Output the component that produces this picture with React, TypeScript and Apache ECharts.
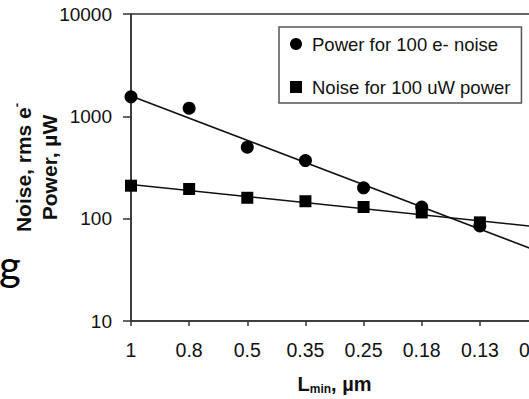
import React, { useEffect, useRef } from "react";
import * as echarts from "echarts";

const categories = ["1", "0.8", "0.5", "0.35", "0.25", "0.18", "0.13", "0.09"];
const powerValues = [1550, 1200, 500, 370, 200, 130, 85];
const noiseValues = [210, 195, 160, 148, 130, 115, 92];
const fitX = ["1", "0.09"];
const powerFit = [1580, 48];
const noiseFit = [216, 83];
const yTicks = [10, 100, 1000, 10000];

const FONT = "'Liberation Sans', Arial, Helvetica, sans-serif";

export default function App() {
  const ref = useRef<HTMLDivElement>(null);
  useEffect(() => {
    document.body.style.margin = "0";
    const chart = echarts.init(ref.current!, null, { renderer: "svg" });
    const option: any = {
      animation: false,
      backgroundColor: "#fff",
      textStyle: { fontFamily: FONT, color: "#000" },
      grid: {
        left: 131,
        top: 14,
        bottom: 78,
        right: 62,
        containLabel: false,
        outerBoundsMode: "none",
        show: true,
        borderColor: "#333",
        borderWidth: 1.5,
        backgroundColor: "transparent",
      },
      legend: {
        orient: "vertical",
        left: 279,
        top: 27,
        padding: [7, 11, 6, 11],
        itemGap: 23,
        itemWidth: 12,
        itemHeight: 12,
        borderColor: "#555",
        borderWidth: 1.5,
        backgroundColor: "#fff",
        itemStyle: { color: "#000", opacity: 1 },
        textStyle: {
          fontFamily: FONT,
          fontSize: 18.5,
          lineHeight: 20,
          color: "#111",
          padding: [0, 0, 0, 5],
        },
        data: [
          { name: "Power for 100 e- noise", icon: "circle" },
          { name: "Noise for 100 uW power", icon: "rect" },
        ],
      },
      xAxis: {
        type: "category",
        data: categories,
        boundaryGap: false,
        axisLine: { lineStyle: { color: "#333", width: 1.5 } },
        axisTick: { show: true, length: 5, inside: false, lineStyle: { color: "#333", width: 1.5 } },
        axisLabel: { fontFamily: FONT, fontSize: 19.5, color: "#111", margin: 19 },
        splitLine: { show: false },
        name: "{a|L}{s|min}{a|, µm}",
        nameLocation: "middle",
        nameGap: 52,
        nameMoveOverlap: false,
        nameTextStyle: {
          rich: {
            a: { fontFamily: FONT, fontWeight: "bold", fontSize: 20, lineHeight: 22, color: "#111" },
            s: { fontFamily: FONT, fontWeight: "bold", fontSize: 12, lineHeight: 22, verticalAlign: "bottom", padding: [8, 0, 0, 0], color: "#111" },
          },
        },
      },
      yAxis: {
        type: "log",
        logBase: 10,
        min: yTicks[0],
        max: yTicks[yTicks.length - 1],
        axisLine: { show: true, lineStyle: { color: "#333", width: 1.5 } },
        axisTick: { show: true, length: 8, lineStyle: { color: "#333", width: 1.5 } },
        minorTick: { show: false },
        axisLabel: {
          fontFamily: FONT,
          fontSize: 19,
          color: "#111",
          margin: 19,
          formatter: (v: number) => String(Math.round(v)),
        },
        splitLine: { show: false },
        name: "{b|Noise, rms e}{u|-}\n{b|Power, µW}",
        nameLocation: "middle",
        nameGap: 69,
        nameMoveOverlap: false,
        nameTextStyle: {
          rich: {
            b: { fontFamily: FONT, fontWeight: "bold", fontSize: 21, lineHeight: 26, color: "#111" },
            u: { fontFamily: FONT, fontWeight: "bold", fontSize: 13, lineHeight: 26, verticalAlign: "top", padding: [0, 0, 10, 0], color: "#111" },
          },
        },
      },
      series: [
        {
          name: "Power fit",
          type: "line",
          data: fitX.map((x, i) => [x, powerFit[i]]),
          symbol: "none",
          lineStyle: { color: "#111", width: 1.6 },
          silent: true,
          z: 2,
        },
        {
          name: "Noise fit",
          type: "line",
          data: fitX.map((x, i) => [x, noiseFit[i]]),
          symbol: "none",
          lineStyle: { color: "#111", width: 1.6 },
          silent: true,
          z: 2,
        },
        {
          name: "Power for 100 e- noise",
          type: "scatter",
          data: powerValues.map((v, i) => [categories[i], v]),
          symbol: "circle",
          symbolSize: 13,
          itemStyle: { color: "#000", opacity: 1 },
          z: 3,
        },
        {
          name: "Noise for 100 uW power",
          type: "scatter",
          data: noiseValues.map((v, i) => [categories[i], v]),
          symbol: "rect",
          symbolSize: 12,
          itemStyle: { color: "#000", opacity: 1 },
          z: 3,
        },
      ],
      graphic: [
        {
          type: "text",
          left: -1,
          top: 244,
          style: { text: "g", fontFamily: "Lato, Roboto, sans-serif", fontSize: 42, fill: "#000" },
        },
      ],
    };
    chart.setOption(option);
    return () => chart.dispose();
  }, []);
  return (
    <div style={{ position: "fixed", left: 0, top: 0, width: 529, height: 399, overflow: "hidden", background: "#fff" }}>
      <div ref={ref} style={{ width: 600, height: 399 }} />
    </div>
  );
}
